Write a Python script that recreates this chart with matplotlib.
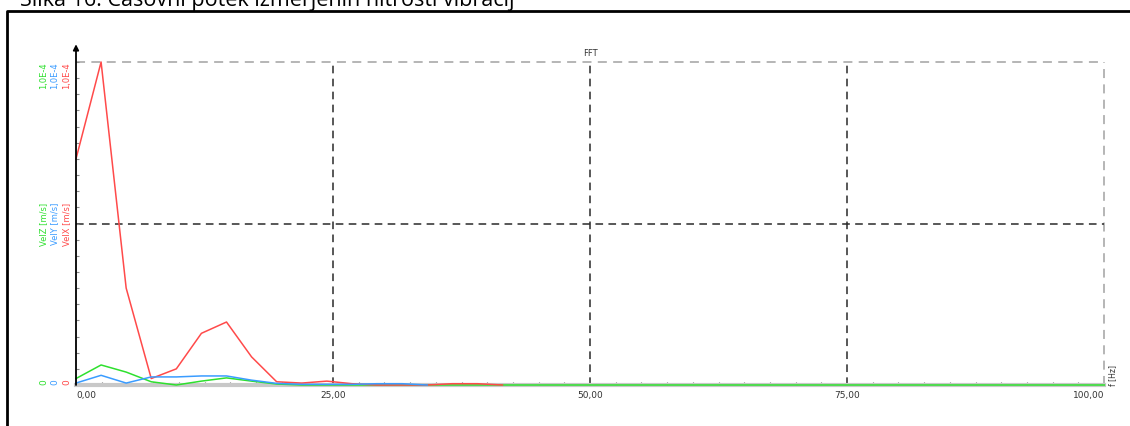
import matplotlib
matplotlib.use("Agg")
import matplotlib.pyplot as plt
from matplotlib.lines import Line2D
import numpy as np

W, H = 1130, 426
df = 2.44  # frequency bin spacing [Hz]

# values in m/s
vel_x = [0.70, 1.00, 0.30, 0.02, 0.05, 0.16, 0.195, 0.087, 0.01, 0.006, 0.012, 0.004,
         0.0, 0.0, 0.0, 0.004, 0.004, 0.0]
vel_y = [0.006, 0.03, 0.006, 0.025, 0.025, 0.028, 0.028, 0.015, 0.005, 0.002, 0.002,
         0.002, 0.004, 0.004, 0.0]
vel_z = [0.02, 0.062, 0.04, 0.01, 0.0, 0.012, 0.022, 0.012, 0.003] + [0.0] * 33
scale = 1e-4
vel_x = [v * scale for v in vel_x]
vel_y = [v * scale for v in vel_y]
vel_z = [v * scale for v in vel_z]

x_ticks = [0, 25, 50, 75, 100]
x_tick_labels = ["0,00", "25,00", "50,00", "75,00", "100,00"]
y_top_label = "1,0E-4"
series_names = ["VelX [m/s]", "VelY [m/s]", "VelZ [m/s]"]
series_colors = ["#ff4a4a", "#3a9cff", "#2ee02e"]

fig = plt.figure(figsize=(W / 100, H / 100), dpi=100)
fig.patch.set_facecolor("white")

def fx(px):
    return px / W

def fy(py):
    return 1 - py / H

x0, x1, ytop, ybot = 76, 1104, 62, 385
ax = fig.add_axes([fx(x0), fy(ybot), fx(x1) - fx(x0), fy(ytop) - fy(ybot)])
ax.set_xlim(0, 100)
ax.set_ylim(0, 1e-4)
for s in ax.spines.values():
    s.set_visible(False)

# grid
dash = (0, (5, 3.5))
ax.axhline(1e-4, color="#b0b0b0", lw=1.3, ls=dash, zorder=1, clip_on=False)
ax.axvline(100, color="#b0b0b0", lw=1.3, ls=dash, zorder=1, clip_on=False)
ax.axhline(0.5e-4, color="#2a2a2a", lw=1.1, ls=dash, zorder=1)
for xv in [25, 50, 75]:
    ax.axvline(xv, color="#2a2a2a", lw=1.1, ls=dash, zorder=1)

# baseline
ax.axhline(0, color="#c8c8c8", lw=3, zorder=2, clip_on=False)

# data
def xs(vals):
    return np.arange(len(vals)) * df

ax.plot(xs(vel_x), vel_x, color=series_colors[0], lw=1.1, zorder=4, clip_on=False)
ax.plot(xs(vel_y), vel_y, color=series_colors[1], lw=1.1, zorder=4, clip_on=False)
ax.plot(xs(vel_z), vel_z, color=series_colors[2], lw=1.1, zorder=3, clip_on=False)

# left axis with arrow
ax.annotate("", xy=(0, 1.055e-4), xytext=(0, 0), xycoords="data",
            arrowprops=dict(arrowstyle="-|>", color="black", lw=1.3,
                            mutation_scale=8, shrinkA=0, shrinkB=0),
            annotation_clip=False, zorder=5)

# ticks
ax.set_xticks(x_ticks)
ax.set_xticklabels(x_tick_labels)
ax.set_xticks(np.arange(0, 100.1, 2.5), minor=True)
ax.set_yticks([])
ax.set_yticks(np.arange(0, 1.0001e-4, 0.05e-4), minor=True)
ax.tick_params(axis="x", which="major", length=0, labelsize=6.5, labelcolor="#333333", pad=4)
ax.tick_params(axis="x", which="minor", length=2, width=0.8, color="#666666", direction="in")
ax.tick_params(axis="y", which="minor", length=2, width=0.8, color="#888888", direction="in")
labs = ax.get_xticklabels()
labs[0].set_horizontalalignment("left")
labs[-1].set_horizontalalignment("right")

# title of chart
fig.text(fx(590), fy(53), "FFT", fontsize=6, color="#333333", ha="center", va="center")

# y labels
col_x = [67, 55, 44]
for name, c, xp in zip(series_names, series_colors, col_x):
    fig.text(fx(xp), fy(62), y_top_label, rotation=90, fontsize=6, color=c,
             ha="center", va="top")
    fig.text(fx(xp), fy(224), name, rotation=90, fontsize=6, color=c,
             ha="center", va="center")
    fig.text(fx(xp), fy(382), "0", rotation=90, fontsize=6.5, color=c,
             ha="center", va="center")

fig.text(fx(1113), fy(376), "f [Hz]", rotation=90, fontsize=5.5, color="#333333",
         ha="center", va="center")

# outer frame (left and top visible)
fig.add_artist(Line2D([fx(7), fx(7), fx(1135)], [fy(430), fy(11), fy(11)],
                      transform=fig.transFigure, color="black", lw=2))

# caption, cut at top as in the source image
fig.text(fx(20), fy(6), "Slika 16: Časovni potek izmerjenih hitrosti vibracij",
         fontsize=15.5, family="Open Sans", color="black", ha="left", va="baseline")

fig.savefig("out.png", dpi=100)
